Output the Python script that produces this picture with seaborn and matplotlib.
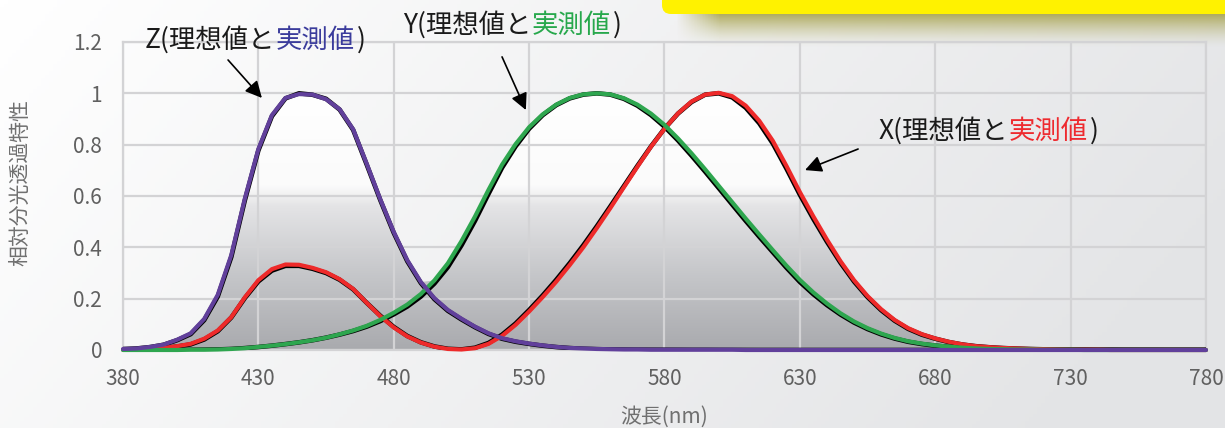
import numpy as np
import matplotlib
matplotlib.use('Agg')
import matplotlib.pyplot as plt
import seaborn as sns
from matplotlib.colors import LinearSegmentedColormap
from matplotlib.patches import Polygon, FancyBboxPatch
from matplotlib.transforms import IdentityTransform

# 波長 (nm)
wavelength = list(range(380, 785, 5))

# 理想値 (CIE 1931, ピーク=1 に正規化)
x_ideal = [0.0013, 0.0021, 0.0040, 0.0072, 0.0135, 0.0218, 0.0410, 0.0731, 0.1265, 0.2022,
           0.2673, 0.3093, 0.3279, 0.3279, 0.3165, 0.3000, 0.2738, 0.2364, 0.1839, 0.1338,
           0.0900, 0.0546, 0.0301, 0.0138, 0.0046, 0.0023, 0.0088, 0.0274, 0.0596, 0.1032,
           0.1558, 0.2125, 0.2734, 0.3386, 0.4081, 0.4821, 0.5597, 0.6387, 0.7175, 0.7932,
           0.8626, 0.9213, 0.9662, 0.9948, 1.0000, 0.9844, 0.9439, 0.8834, 0.8044, 0.7074,
           0.6048, 0.5102, 0.4217, 0.3397, 0.2669, 0.2059, 0.1552, 0.1141, 0.0823, 0.0599,
           0.0440, 0.0310, 0.0214, 0.0149, 0.0107, 0.0076, 0.0055, 0.0039, 0.0027, 0.0019,
           0.0014, 0.0009, 0.0006, 0.0005, 0.0003, 0.0002, 0.0002, 0.0001, 0.0001, 0.0001, 0.0000]
y_ideal = [0.0000, 0.0001, 0.0001, 0.0002, 0.0004, 0.0006, 0.0012, 0.0022, 0.0040, 0.0073,
           0.0116, 0.0168, 0.0230, 0.0298, 0.0380, 0.0480, 0.0600, 0.0739, 0.0910, 0.1126,
           0.1390, 0.1693, 0.2080, 0.2586, 0.3230, 0.4073, 0.5030, 0.6082, 0.7100, 0.7932,
           0.8620, 0.9149, 0.9540, 0.9803, 0.9950, 1.0000, 0.9950, 0.9786, 0.9520, 0.9154,
           0.8700, 0.8163, 0.7570, 0.6949, 0.6310, 0.5668, 0.5030, 0.4412, 0.3810, 0.3210,
           0.2650, 0.2170, 0.1750, 0.1382, 0.1070, 0.0816, 0.0610, 0.0446, 0.0320, 0.0232,
           0.0170, 0.0119, 0.0082, 0.0057, 0.0041, 0.0029, 0.0021, 0.0015, 0.0010, 0.0007,
           0.0005, 0.0004, 0.0002, 0.0002, 0.0001, 0.0001, 0.0001, 0.0000, 0.0000, 0.0000, 0.0000]
z_ideal = [0.0036, 0.0059, 0.0113, 0.0203, 0.0381, 0.0618, 0.1164, 0.2083, 0.3623, 0.5830,
           0.7775, 0.9107, 0.9803, 1.0000, 0.9944, 0.9787, 0.9367, 0.8575, 0.7226, 0.5847,
           0.4562, 0.3458, 0.2610, 0.1983, 0.1526, 0.1191, 0.0888, 0.0627, 0.0439, 0.0321,
           0.0237, 0.0167, 0.0114, 0.0075, 0.0049, 0.0032, 0.0022, 0.0015, 0.0012, 0.0010,
           0.0009, 0.0008, 0.0006, 0.0006, 0.0004, 0.0003, 0.0002, 0.0001, 0.0001, 0.0001,
           0.0000, 0.0000, 0.0000, 0.0000, 0.0000, 0.0000, 0.0000, 0.0000, 0.0000, 0.0000,
           0.0000, 0.0000, 0.0000, 0.0000, 0.0000, 0.0000, 0.0000, 0.0000, 0.0000, 0.0000,
           0.0000, 0.0000, 0.0000, 0.0000, 0.0000, 0.0000, 0.0000, 0.0000, 0.0000, 0.0000, 0.0000]

# 実測値
x_meas = [0.001, 0.002, 0.004, 0.008, 0.015, 0.024, 0.044, 0.076, 0.128, 0.205,
          0.272, 0.315, 0.333, 0.332, 0.320, 0.303, 0.276, 0.238, 0.184, 0.132,
          0.088, 0.053, 0.029, 0.013, 0.004, 0.002, 0.007, 0.024, 0.055, 0.098,
          0.150, 0.206, 0.266, 0.331, 0.400, 0.475, 0.553, 0.634, 0.714, 0.792,
          0.862, 0.922, 0.968, 0.995, 1.002, 0.989, 0.952, 0.893, 0.815, 0.718,
          0.615, 0.520, 0.430, 0.346, 0.272, 0.210, 0.159, 0.117, 0.085, 0.062,
          0.045, 0.032, 0.022, 0.015, 0.011, 0.008, 0.006, 0.004, 0.003, 0.002,
          0.001, 0.001, 0.001, 0.000, 0.000, 0.000, 0.000, 0.000, 0.000, 0.000, 0.000]
y_meas = [0.000, 0.000, 0.000, 0.000, 0.000, 0.001, 0.001, 0.002, 0.004, 0.007,
          0.012, 0.017, 0.023, 0.030, 0.038, 0.048, 0.061, 0.076, 0.094, 0.117,
          0.145, 0.177, 0.218, 0.271, 0.338, 0.424, 0.520, 0.624, 0.722, 0.802,
          0.868, 0.918, 0.956, 0.982, 0.996, 1.000, 0.996, 0.981, 0.956, 0.921,
          0.877, 0.824, 0.766, 0.704, 0.640, 0.576, 0.512, 0.450, 0.389, 0.329,
          0.273, 0.224, 0.181, 0.143, 0.111, 0.085, 0.064, 0.047, 0.034, 0.025,
          0.018, 0.013, 0.009, 0.006, 0.004, 0.003, 0.002, 0.002, 0.001, 0.001,
          0.001, 0.000, 0.000, 0.000, 0.000, 0.000, 0.000, 0.000, 0.000, 0.000, 0.000]
z_meas = [0.004, 0.006, 0.012, 0.021, 0.040, 0.065, 0.121, 0.215, 0.370, 0.590,
          0.783, 0.915, 0.982, 0.997, 0.995, 0.977, 0.938, 0.860, 0.726, 0.588,
          0.460, 0.350, 0.265, 0.202, 0.156, 0.122, 0.091, 0.065, 0.046, 0.034,
          0.025, 0.018, 0.012, 0.008, 0.006, 0.004, 0.003, 0.002, 0.002, 0.001,
          0.001, 0.001, 0.001, 0.001, 0.001, 0.001, 0.000, 0.000, 0.000, 0.000,
          0.000, 0.000, 0.000, 0.000, 0.000, 0.000, 0.000, 0.000, 0.000, 0.000,
          0.000, 0.000, 0.000, 0.000, 0.000, 0.000, 0.000, 0.000, 0.000, 0.000,
          0.000, 0.000, 0.000, 0.000, 0.000, 0.000, 0.000, 0.000, 0.000, 0.000, 0.000]

x_ticks = [380, 430, 480, 530, 580, 630, 680, 730, 780]
y_ticks = [0, 0.2, 0.4, 0.6, 0.8, 1.0, 1.2]
y_tick_labels = ['0', '0.2', '0.4', '0.6', '0.8', '1', '1.2']

c_red = '#ee2a2a'
c_green = '#2ea64f'
c_purple = '#61409b'

sns.set_theme(style='white')
plt.rcParams['font.family'] = ['Noto Sans CJK JP', 'DejaVu Sans']

fig = plt.figure(figsize=(12.25, 4.28), dpi=100)

# 背景のグラデーション
bg = fig.add_axes([0, 0, 1, 1], zorder=-10)
gx = np.linspace(0, 1, 300)
gy = np.linspace(0, 1, 120)
shade = np.clip(0.85 * gx[None, :] + 0.25 * gy[:, None], 0, 1)
bg_cmap = LinearSegmentedColormap.from_list('bg', ['#ffffff', '#e3e4e6'])
bg.imshow(shade, cmap=bg_cmap, aspect='auto', extent=[0, 1, 0, 1], origin='upper', vmin=0, vmax=1)
bg.axis('off')

# 黄色い帯の影
sh = fig.add_axes([675 / 1225, 1 - 48 / 428, 550 / 1225, 36 / 428], zorder=-5)
ty = np.linspace(0, 1, 60)[:, None]
tx = np.linspace(0, 1, 200)[None, :]
alpha = (1 - ty) ** 1.5 * np.clip(tx / 0.08, 0, 1) * 0.85
rgba = np.zeros((60, 200, 4))
rgba[..., 0], rgba[..., 1], rgba[..., 2] = 0.62, 0.60, 0.22
rgba[..., 3] = alpha
sh.imshow(rgba, aspect='auto', extent=[0, 1, 0, 1], origin='upper')
sh.axis('off')

fig.add_artist(FancyBboxPatch((662, 428 - 14), 600, 50, boxstyle='round,pad=0,rounding_size=9',
                              transform=IdentityTransform(), facecolor='#fff200',
                              edgecolor='none', zorder=5))

ax = fig.add_axes([123 / 1225, 1 - 350 / 428, 1083 / 1225, 308 / 428])
ax.set_facecolor('none')

# 曲線の下のグラデーション
env = np.maximum.reduce([np.array(x_ideal), np.array(y_ideal), np.array(z_ideal),
                         np.array(x_meas), np.array(y_meas), np.array(z_meas)])
verts = [(wavelength[0], 0)] + list(zip(wavelength, env)) + [(wavelength[-1], 0)]
clip_poly = Polygon(verts, closed=True, transform=ax.transData, facecolor='none', edgecolor='none')
ax.add_patch(clip_poly)
fill_cmap = LinearSegmentedColormap.from_list(
    'fill', [(0, '#a9aaae'), (0.3, '#c6c7ca'), (0.56, '#e4e4e6'), (0.64, '#fbfbfb'), (1, '#ffffff')])
grad = np.repeat(np.linspace(0, 1, 256)[:, None], 2, axis=1)
im = ax.imshow(grad, cmap=fill_cmap, extent=[380, 780, 0, 1.0], origin='lower',
               aspect='auto', zorder=0.2, vmin=0, vmax=1)
im.set_clip_path(clip_poly)

# 理想値(黒)と実測値(カラー)
for ideal in [x_ideal, y_ideal, z_ideal]:
    sns.lineplot(x=wavelength, y=ideal, ax=ax, color='black', lw=3.3, estimator=None, zorder=3,
                 solid_joinstyle='round', solid_capstyle='round')
for meas, col in [(x_meas, c_red), (y_meas, c_green), (z_meas, c_purple)]:
    sns.lineplot(x=wavelength, y=meas, ax=ax, color=col, lw=3.0, estimator=None,
                 zorder=4, clip_on=False, solid_joinstyle='round', solid_capstyle='round')

ax.set_xlim(380, 780)
ax.set_ylim(0, 1.2)
ax.set_xticks(x_ticks)
ax.set_yticks(y_ticks)
ax.set_yticklabels(y_tick_labels)
ax.grid(True, color='#d3d3d5', lw=1.6)
ax.set_axisbelow('line')
for s in ax.spines.values():
    s.set_color('#d3d3d5')
    s.set_linewidth(1.6)
ax.tick_params(axis='both', length=0, labelsize=15, labelcolor='#606060')
ax.tick_params(axis='y', pad=15)
ax.tick_params(axis='x', pad=13)
ax.set_xlabel('')
ax.set_ylabel('')

fig.text(20 / 1225, 1 - 182 / 428, '相対分光透過特性', rotation=90, ha='center', va='center',
         fontsize=15, color='#707070')
fig.text(664 / 1225, 1 - 417 / 428, '波長(nm)', ha='center', va='center',
         fontsize=15, color='#707070')


# 注釈
def label(x, y, name, color):
    t = ax.text(x, y, name + '(理想値と', fontsize=19, color='#1a1a1a', ha='left', va='center',
                clip_on=False)
    t2 = ax.annotate('実測値', xy=(1, 0), xycoords=t, fontsize=19, color=color,
                     ha='left', va='bottom', annotation_clip=False)
    ax.annotate(')', xy=(1, 0), xycoords=t2, xytext=(2, 0), textcoords='offset pixels',
                fontsize=19, color='#1a1a1a', ha='left', va='bottom', annotation_clip=False)


label(388.1, 1.208, 'Z', '#3b3c9c')
label(483.4, 1.266, 'Y', '#27a84c')
label(659.2, 0.853, 'X', '#ee2a2f')

arrow = dict(arrowstyle='-|>', color='black', lw=1.2, mutation_scale=25, shrinkA=0, shrinkB=0)
ax.annotate('', xy=(431.3, 0.982), xytext=(418.8, 1.130), arrowprops=arrow, annotation_clip=False)
ax.annotate('', xy=(528.8, 0.935), xytext=(520.0, 1.142), arrowprops=arrow, annotation_clip=False)
ax.annotate('', xy=(631.9, 0.701), xytext=(651.5, 0.783), arrowprops=arrow, annotation_clip=False)

fig.savefig('out.png', dpi=100)
